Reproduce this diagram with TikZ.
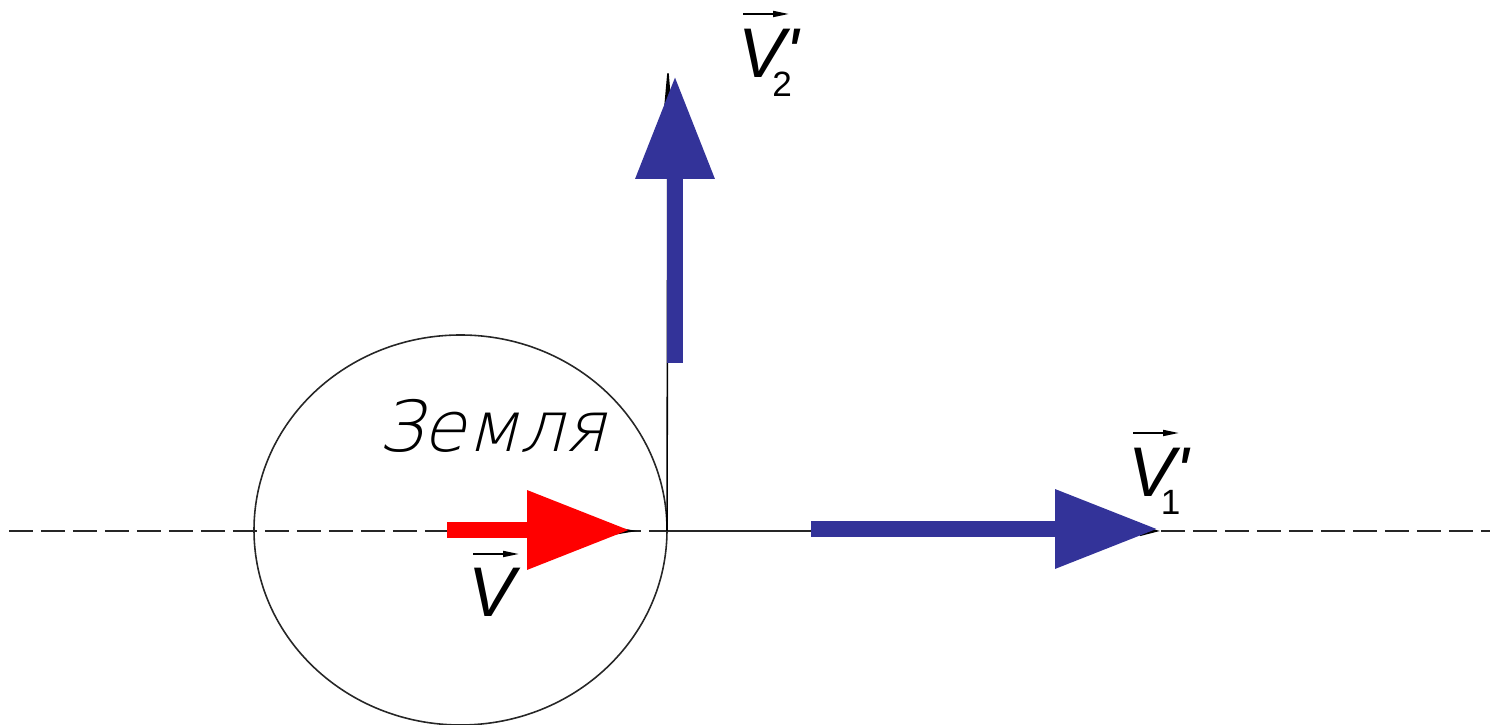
\documentclass[tikz,border=0pt]{standalone}
\usepackage{fontspec}
\setmainfont{Liberation Sans}
\newfontfamily\earthfont{DejaVu Sans ExtraLight}[FakeSlant=0.25]
\usetikzlibrary{arrows.meta,calc}
\definecolor{vecblue}{RGB}{51,51,153}

\begin{document}
\begin{tikzpicture}[x=0.1mm,y=-0.1mm,
  axis/.style={draw=black!85,line width=0.45pt},
  fat/.style={line width=1.65mm,-{Triangle[length=10.3mm,width=7.5mm]}},
  sliver/.style={draw=black,line width=0.45pt,-{Triangle[length=#1,width=1mm]}},
  vlabel/.style={font=\fontsize{20}{24}\selectfont\itshape,inner sep=0pt,anchor=base west},
  overarr/.style={line width=0.5pt,-{Triangle[length=1.6mm,width=0.6mm]}}]
  \useasboundingbox (0,0) rectangle (1490,725);
  \coordinate (west) at (9,531);
  \coordinate (east) at (1490,531);
  \coordinate (c) at (460.5,530);
  \coordinate (o) at (667,531);
  \coordinate (r0) at (447,530);
  \coordinate (r1) at (630,530);
  \coordinate (r1t) at (637,531);
  \coordinate (h0) at (811,529);
  \coordinate (h1) at (1158,529);
  \coordinate (h1t) at (1160,531);
  \coordinate (u0) at (675,363);
  \coordinate (u1) at (675,76);
  \coordinate (u1t) at (668,64);
  % axis and Earth
  \draw[axis,dash pattern=on 2.4mm off 0.8mm] (west) -- (east);
  \draw[axis] (c) ellipse [x radius=206.5,y radius=195];
  \draw[axis] (o) -- (811,531);
  % thin vectors under the fat ones
  \draw[sliver=3mm] (r0) -- (r1t);
  \draw[sliver=6mm] (o) -- (u1t);
  \draw[sliver=2mm] (h0) -- (h1t);
  % fat vectors
  \draw[fat,red] (r0) -- (r1);
  \draw[fat,vecblue] (h0) -- (h1);
  \draw[fat,vecblue] (u0) -- (u1);
  % labels
  \node[font=\earthfont\fontsize{20}{24}\selectfont,anchor=base] (earth) at (492,452) {Земля};
  \node[vlabel] (v) at (468,617) {V};
  \node[vlabel] (v1) at (1128,497) {V\textquotesingle\hspace{-0.4em}\raisebox{-1.8mm}{\fontsize{10}{12}\selectfont\upshape 1}};
  \node[vlabel] (v2) at (738,78) {V\textquotesingle\hspace{-0.38em}\raisebox{-1.9mm}{\fontsize{10}{12}\selectfont\upshape 2}};
  \draw[overarr] ($(v.base west)+(5,-63)$) -- ++(46,0);
  \draw[overarr] ($(v1.base west)+(5,-64)$) -- ++(46,0);
  \draw[overarr] ($(v2.base west)+(5,-64)$) -- ++(46,0);
\end{tikzpicture}
\end{document}
